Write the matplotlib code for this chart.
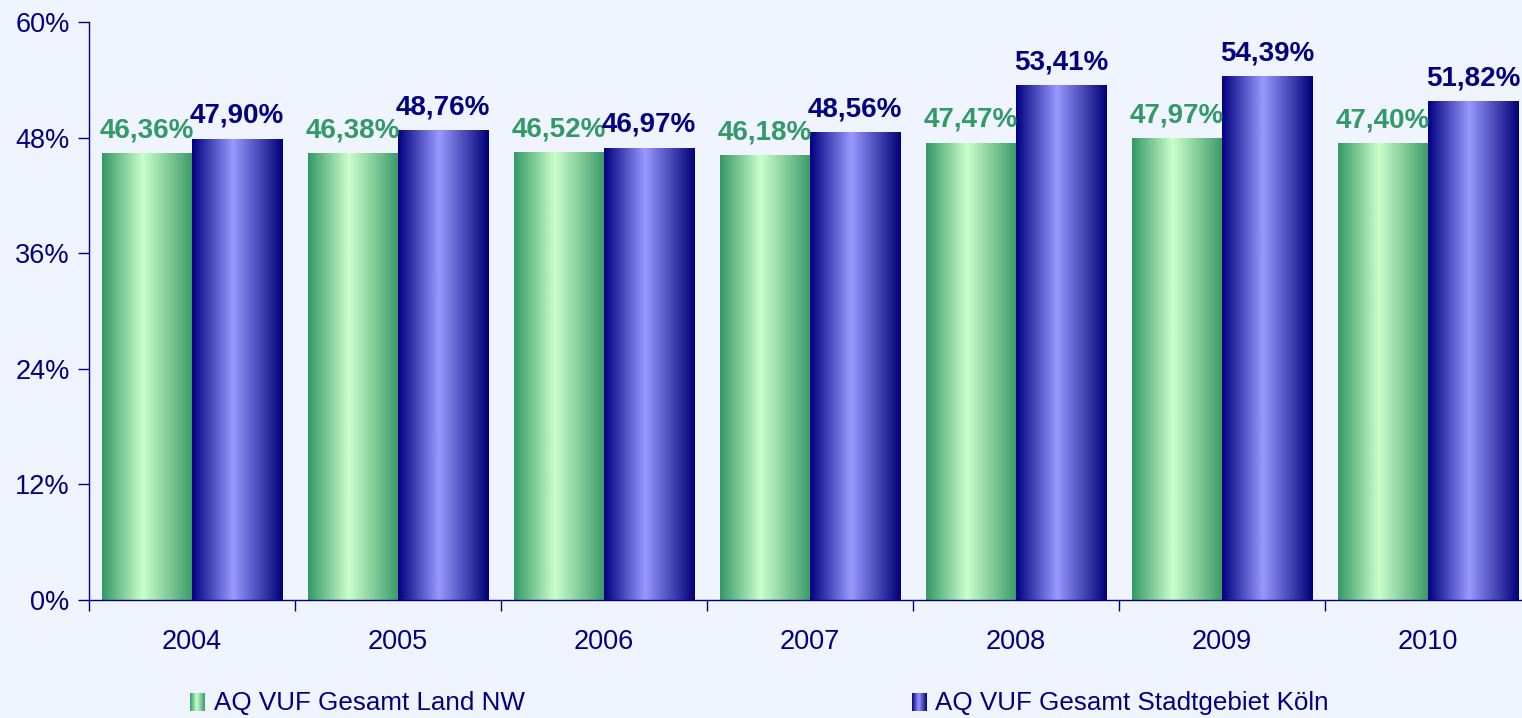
import numpy as np
import matplotlib.pyplot as plt
from matplotlib.colors import LinearSegmentedColormap

years = ["2004", "2005", "2006", "2007", "2008", "2009", "2010"]
land_nw = [46.36, 46.38, 46.52, 46.18, 47.47, 47.97, 47.40]
koeln = [47.90, 48.76, 46.97, 48.56, 53.41, 54.39, 51.82]
series_names = ["AQ VUF Gesamt Land NW", "AQ VUF Gesamt Stadtgebiet Köln"]
yticks = [0, 12, 24, 36, 48, 60]

plt.rcParams['font.family'] = ['Liberation Sans', 'DejaVu Sans']

bg = '#EFF4FE'
navy = '#000080'
green_txt = '#339966'

green_cmap = LinearSegmentedColormap.from_list('g', [(0, '#339966'), (0.45, '#CCFFCC'), (1, '#3A9A68')])
blue_cmap = LinearSegmentedColormap.from_list('b', [(0, '#000080'), (0.45, '#9999FF'), (1, '#000077')])
grad = np.linspace(0, 1, 256).reshape(1, -1)

fig = plt.figure(figsize=(15.22, 7.18), dpi=100, facecolor=bg)
ax = fig.add_axes([89 / 1522, 118 / 718, 1442 / 1522, 578 / 718])
ax.set_facecolor(bg)

x = np.arange(len(years))
w = 0.437


def gradient_bars(xs, heights, cmap):
    bars = ax.bar(xs, heights, width=w, color='none', edgecolor='none')
    for b in bars:
        x0, y0 = b.get_x(), b.get_y()
        im = ax.imshow(grad, cmap=cmap, aspect='auto', interpolation='bicubic',
                       extent=(x0, x0 + b.get_width(), y0, y0 + b.get_height()), zorder=2)
        im.set_clip_path(b)
    return bars


gradient_bars(x - w / 2, land_nw, green_cmap)
gradient_bars(x + w / 2, koeln, blue_cmap)

for xi, v in zip(x - w / 2, land_nw):
    ax.annotate(f"{v:.2f}%".replace('.', ','), (xi, v), xytext=(0, 7), textcoords='offset points',
                ha='center', va='bottom', fontsize=20, fontweight='bold', color=green_txt)
for xi, v in zip(x + w / 2, koeln):
    ax.annotate(f"{v:.2f}%".replace('.', ','), (xi, v), xytext=(0, 7), textcoords='offset points',
                ha='center', va='bottom', fontsize=20, fontweight='bold', color=navy)

ax.set_xlim(-0.5, len(years) - 0.5)
ax.set_ylim(0, 60)
ax.set_yticks(yticks)
ax.set_yticklabels([f"{t}%" for t in yticks])
ax.set_xticks(np.arange(len(years) + 1) - 0.5)
ax.set_xticklabels([])
ax.set_xticks(x, minor=True)
ax.set_xticklabels(years, minor=True)
ax.tick_params(axis='x', which='minor', length=0, pad=21, labelsize=19.5, labelcolor=navy)
ax.tick_params(axis='x', which='major', length=8, width=1, color=navy, direction='out')
ax.tick_params(axis='y', length=8, width=1, color=navy, labelsize=19.5, labelcolor=navy, pad=6)
for s in ['top', 'right']:
    ax.spines[s].set_visible(False)
for s in ['left', 'bottom']:
    ax.spines[s].set_color(navy)
    ax.spines[s].set_linewidth(1)

# legend
for (lx, tx), cmap, name in zip([(190, 214), (912, 935)], [green_cmap, blue_cmap], series_names):
    lax = fig.add_axes([lx / 1522, 7 / 718, 15 / 1522, 18 / 718])
    lax.imshow(grad, cmap=cmap, aspect='auto', interpolation='bicubic')
    lax.axis('off')
    fig.text(tx / 1522, 15 / 718, name, fontsize=18.7, color=navy, va='center', ha='left')

fig.savefig('out.png', dpi=100, facecolor=bg)
